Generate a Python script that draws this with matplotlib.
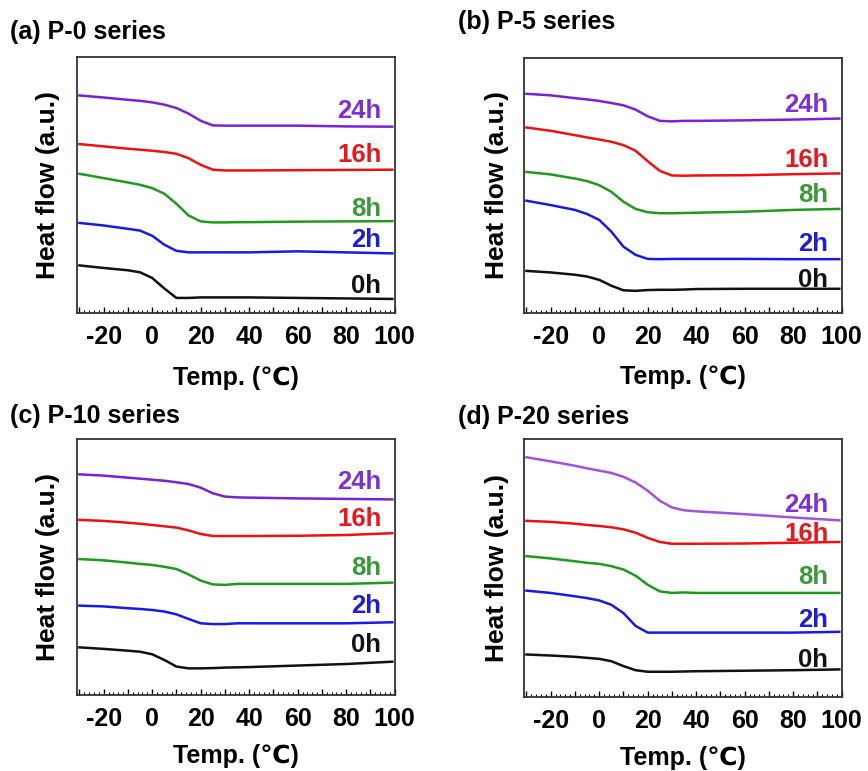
import matplotlib
matplotlib.use('Agg')
import matplotlib.pyplot as plt
from matplotlib.ticker import FixedLocator, MultipleLocator

plt.rcParams['font.family'] = ['Liberation Sans', 'DejaVu Sans']
plt.rcParams['font.weight'] = 'bold'

# temperature grid (degC)
temp = [-30, -20, -10, -5, 0, 5, 10, 15, 20, 25, 30, 35, 40, 60, 80, 99]
hours = ['0h', '2h', '8h', '16h', '24h']

# heat flow (a.u.), order 0h, 2h, 8h, 16h, 24h
p0 = [
    [18.6, 17.6, 16.7, 15.9, 13.7, 9.6, 5.9, 5.9, 6.1, 6.1, 6.1, 6.1, 6.1, 5.9, 5.7, 5.5],
    [35.2, 34.2, 32.9, 32.2, 30.2, 26.7, 24.3, 23.7, 23.7, 23.7, 23.7, 23.7, 23.7, 24.1, 23.7, 23.3],
    [54.4, 52.7, 51.0, 50.1, 48.8, 46.6, 42.7, 38.1, 35.8, 35.4, 35.4, 35.5, 35.5, 35.7, 35.8, 35.9],
    [66.0, 65.1, 64.2, 63.8, 63.4, 62.9, 62.2, 60.5, 57.9, 56.0, 55.7, 55.7, 55.7, 55.8, 55.9, 56.0],
    [85.0, 84.2, 83.3, 82.9, 82.3, 81.4, 80.1, 77.9, 75.1, 73.3, 73.2, 73.2, 73.2, 73.2, 72.9, 72.8],
]
p5 = [
    [16.5, 15.9, 15.0, 14.3, 13.0, 10.7, 8.9, 8.7, 9.0, 9.1, 9.1, 9.2, 9.4, 9.5, 9.5, 9.5],
    [44.0, 42.3, 40.4, 38.8, 36.5, 31.9, 26.0, 22.8, 21.2, 21.1, 21.2, 21.2, 21.2, 21.2, 21.1, 21.1],
    [55.3, 54.3, 52.7, 51.7, 50.1, 47.5, 43.6, 40.8, 39.5, 39.1, 39.1, 39.2, 39.3, 39.7, 40.4, 40.8],
    [72.7, 71.4, 69.7, 68.8, 68.0, 67.1, 65.8, 63.6, 59.5, 55.7, 53.9, 53.8, 53.9, 54.0, 54.4, 54.7],
    [85.9, 85.3, 84.2, 83.7, 83.1, 82.3, 81.4, 79.7, 77.1, 75.3, 75.1, 75.3, 75.3, 75.5, 75.8, 76.2],
]
p10 = [
    [18.6, 18.0, 17.3, 16.9, 15.9, 13.7, 11.1, 10.4, 10.4, 10.5, 10.7, 10.8, 10.9, 11.5, 12.1, 13.0],
    [34.9, 34.6, 33.9, 33.6, 33.2, 32.6, 31.5, 29.7, 28.0, 27.7, 27.7, 28.0, 28.0, 28.0, 28.0, 28.4],
    [53.1, 52.6, 51.7, 51.2, 50.8, 50.1, 49.2, 47.1, 44.7, 43.2, 43.0, 43.4, 43.4, 43.4, 43.4, 43.9],
    [68.4, 68.0, 67.3, 66.9, 66.4, 65.9, 65.4, 64.3, 62.9, 62.1, 62.1, 62.1, 62.1, 62.2, 62.5, 63.2],
    [86.2, 85.7, 84.9, 84.5, 84.1, 83.7, 83.1, 82.4, 81.0, 78.8, 77.5, 77.2, 77.1, 76.8, 76.6, 76.4],
]
p20 = [
    [16.5, 16.1, 15.6, 15.2, 14.8, 13.9, 12.0, 10.4, 9.8, 9.8, 9.8, 9.9, 10.0, 10.2, 10.4, 10.7],
    [41.3, 40.4, 39.1, 38.4, 37.5, 35.8, 32.6, 27.6, 25.0, 25.0, 25.0, 25.0, 25.0, 25.0, 25.0, 25.3],
    [54.7, 53.8, 52.7, 52.1, 51.7, 50.8, 49.5, 47.1, 43.6, 41.0, 40.4, 40.6, 40.4, 40.4, 40.4, 40.4],
    [68.4, 68.0, 67.3, 66.8, 66.4, 65.9, 65.1, 63.8, 61.8, 60.2, 59.5, 59.5, 59.5, 59.6, 59.9, 60.2],
    [93.1, 91.5, 89.8, 88.8, 87.9, 87.0, 85.5, 83.3, 80.1, 76.2, 73.6, 72.5, 72.1, 71.0, 69.7, 68.6],
]

titles = ['(a) P-0 series', '(b) P-5 series', '(c) P-10 series', '(d) P-20 series']
panels = [p0, p5, p10, p20]

line_colors = ['#111111', '#1a1ae6', '#1f9a1f', '#ee1111', '#7a22d4']
text_colors = ['#111111', '#1d1dd6', '#3a9a3a', '#e8171d', '#7f2fd6']
line_colors_d = ['#111111', '#1a1ae6', '#1f9a1f', '#ee1111', '#a052e0']

# layout (figure fractions) and label placement
axes_rect = [[0.0887, 0.594, 0.366, 0.332],
             [0.6037, 0.594, 0.366, 0.331],
             [0.0887, 0.0986, 0.366, 0.332],
             [0.6037, 0.096, 0.366, 0.334]]
title_pos = [(0.012, 0.959), (0.528, 0.972), (0.012, 0.461), (0.528, 0.459)]
label_y = [[10.4, 28.4, 40.6, 61.8, 78.8],
           [13.0, 27.0, 46.2, 59.9, 81.4],
           [19.5, 34.8, 49.7, 68.8, 83.3],
           [14.3, 29.9, 46.6, 63.2, 74.5]]
ylab_x = [-0.053, -0.047, -0.053, -0.047]
xlab_y = [-0.205, -0.205, -0.19, -0.19]

fig = plt.figure(figsize=(8.68, 7.71), dpi=100)

for i in range(4):
    ax = fig.add_axes(axes_rect[i])
    cols = line_colors_d if i == 3 else line_colors
    for j, h in enumerate(hours):
        ax.plot(temp, panels[i][j], color=cols[j], lw=1.8, solid_joinstyle='round')
        ax.text(94.5, label_y[i][j], h, color=text_colors[j], fontsize=18.5,
                fontweight='bold', ha='right', va='center')
    ax.set_xlim(-31, 100)
    ax.set_ylim(0, 100)
    ax.set_yticks([])
    ax.xaxis.set_major_locator(FixedLocator(list(range(-30, 101, 10))))
    ax.set_xticklabels(['' if t % 20 else str(t) for t in range(-30, 101, 10)])
    ax.xaxis.set_minor_locator(MultipleLocator(2))
    ax.tick_params(axis='x', which='major', direction='in', length=4.5, width=1,
                   labelsize=18, pad=8.5, top=False)
    ax.tick_params(axis='x', which='minor', direction='in', length=2.2, width=0.8, top=False)
    for s in ax.spines.values():
        s.set_linewidth(1.3)
        s.set_color('#333333')
    ax.set_ylabel('Heat flow (a.u.)', fontsize=19, fontweight='bold')
    ax.yaxis.set_label_coords(ylab_x[i], 0.5)
    ax.set_xlabel('Temp. (\u2103)', fontsize=18, fontweight='bold')
    ax.xaxis.set_label_coords(0.5, xlab_y[i])
    fig.text(title_pos[i][0], title_pos[i][1], titles[i], fontsize=18,
             fontweight='bold', ha='left', va='center')

fig.savefig('out.png', dpi=100)
